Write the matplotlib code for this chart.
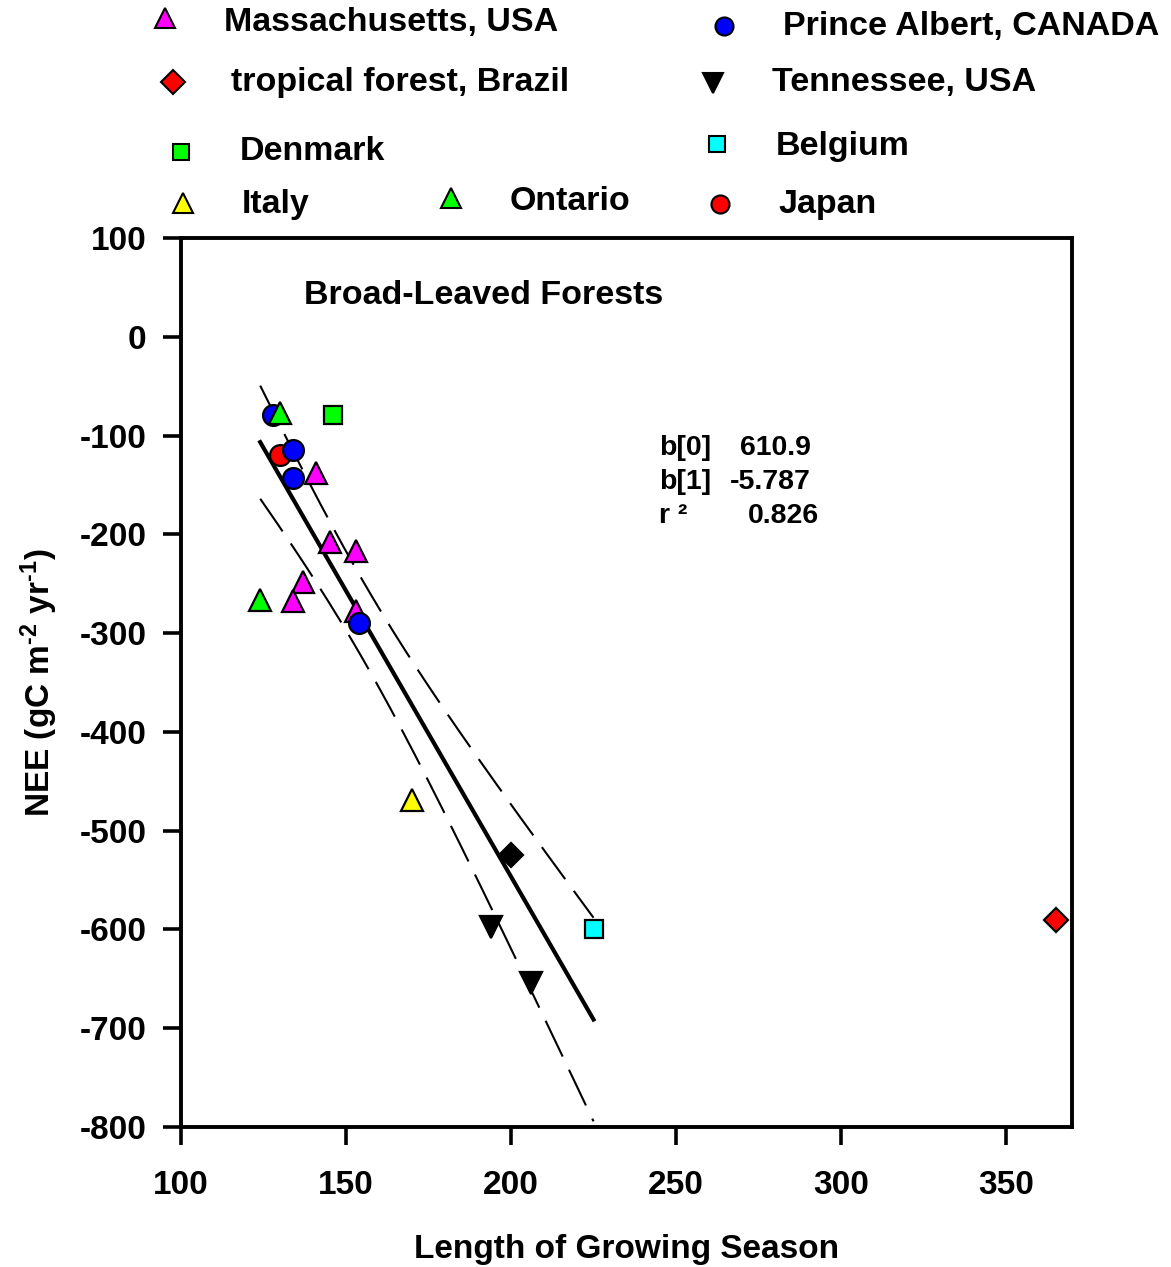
import numpy as np
import matplotlib
matplotlib.use("Agg")
import matplotlib.pyplot as plt

plt.rcParams['font.family'] = ['Liberation Sans', 'DejaVu Sans']
plt.rcParams['font.weight'] = 'bold'
plt.rcParams['axes.unicode_minus'] = False
plt.rcParams['mathtext.fontset'] = 'custom'
plt.rcParams['mathtext.rm'] = 'Liberation Sans:bold'
plt.rcParams['mathtext.default'] = 'rm'

# Données (longueur de saison, NEE)
mass_x = [141, 145, 153, 137, 134, 153]
mass_y = [-138, -208, -217, -248, -267, -278]
japan_x = [130]
japan_y = [-120]
pa_x = [128, 134, 134, 154]
pa_y = [-79, -115, -143, -290]
ontario_x = [130, 124]
ontario_y = [-77, -266]
denmark_x = [146]
denmark_y = [-79]
italy_x = [170]
italy_y = [-469]
other_x = [200]
other_y = [-525]
tenn_x = [194, 206]
tenn_y = [-598, -654]
belgium_x = [225]
belgium_y = [-600]
brazil_x = [365]
brazil_y = [-590]

# Régression (valeurs affichées)
b0 = 610.9
b1 = -5.787
r2 = 0.826
t_crit = 2.110  # t 95%, 17 ddl

fig = plt.figure(figsize=(11.71, 12.67), dpi=100)
ax = fig.add_axes([181 / 1171, 1 - 1127 / 1267, (1072 - 181) / 1171, (1127 - 238) / 1267])

# Points utilisés pour la régression (sans le Brésil)
fit_x = np.array(mass_x + japan_x + pa_x + ontario_x + denmark_x + italy_x + other_x + tenn_x + belgium_x, float)
fit_y = np.array(mass_y + japan_y + pa_y + ontario_y + denmark_y + italy_y + other_y + tenn_y + belgium_y, float)
n = len(fit_x)
resid = fit_y - (b0 + b1 * fit_x)
s = np.sqrt(np.sum(resid ** 2) / (n - 2))
xbar = fit_x.mean()
sxx = np.sum((fit_x - xbar) ** 2)

xx = np.linspace(fit_x.min(), fit_x.max(), 200)
yy = b0 + b1 * xx
half = t_crit * s * np.sqrt(1 / n + (xx - xbar) ** 2 / sxx)

ax.plot(xx, yy, color='black', lw=3, zorder=2)
ax.plot(xx, yy + half, color='black', lw=1.5, dashes=(19, 7), zorder=2)
ax.plot(xx, yy - half, color='black', lw=1.5, dashes=(19, 7), zorder=2)

mk = dict(markeredgecolor='black', markeredgewidth=1.6, linestyle='none', zorder=3)
ax.plot(mass_x, mass_y, '^', color='#ff00ff', markersize=16, **mk)
ax.plot(japan_x, japan_y, 'o', color='red', markersize=15, **mk)
ax.plot(pa_x, pa_y, 'o', color='#0000ff', markersize=15, **mk)
ax.plot(ontario_x, ontario_y, '^', color='#00ff00', markersize=16, **mk)
ax.plot(denmark_x, denmark_y, 's', color='#00ff00', markersize=13, **mk)
ax.plot(italy_x, italy_y, '^', color='yellow', markersize=16, **mk)
ax.plot(other_x, other_y, 'D', color='black', markersize=12, **mk)
ax.plot(tenn_x, tenn_y, 'v', color='black', markersize=16, **mk)
ax.plot(belgium_x, belgium_y, 's', color='cyan', markersize=13, **mk)
ax.plot(brazil_x, brazil_y, 'D', color='red', markersize=12, **mk)

ax.set_xlim(100, 370)
ax.set_ylim(-800, 100)
ax.set_xticks([100, 150, 200, 250, 300, 350])
ax.set_yticks(np.arange(-800, 101, 100))
ax.tick_params(direction='out', length=13, width=2.6, labelsize=24)
ax.tick_params(axis='x', pad=18)
ax.tick_params(axis='y', pad=12)
for sp in ax.spines.values():
    sp.set_linewidth(2.8)
for lab in ax.get_xticklabels() + ax.get_yticklabels():
    lab.set_fontweight('bold')

ax.set_xlabel('Length of Growing Season', fontsize=24, fontweight='bold', labelpad=24)
ax.set_ylabel('NEE (gC m$^{\\text{-2}}$ yr$^{\\text{-1}}$)', fontsize=24, fontweight='bold', labelpad=14)

ax.text(0.138, 0.935, 'Broad-Leaved Forests', transform=ax.transAxes, fontsize=24.5,
        fontweight='bold', va='center', ha='left')

# Couche en pixels pour la légende et les coefficients
ov = fig.add_axes([0, 0, 1, 1], zorder=5)
ov.set_xlim(0, 1171)
ov.set_ylim(1267, 0)
ov.axis('off')
ov.patch.set_alpha(0)

ov.text(659, 448, 'b[0]', fontsize=20.5, fontweight='bold', va='center')
ov.text(740, 448, '610.9', fontsize=20.5, fontweight='bold', va='center')
ov.text(659, 482, 'b[1]', fontsize=20.5, fontweight='bold', va='center')
ov.text(730, 482, '-5.787', fontsize=20.5, fontweight='bold', va='center')
ov.text(659, 516, 'r \u00b2', fontsize=20.5, fontweight='bold', va='center')
ov.text(748, 516, f'{r2:.3f}', fontsize=20.5, fontweight='bold', va='center')

legend_items = [
    ('^', '#ff00ff', 165, 18, 'Massachusetts, USA', 224, 22),
    ('o', '#0000ff', 724, 26, 'Prince Albert, CANADA', 783, 27),
    ('D', 'red', 173, 82, 'tropical forest, Brazil', 231, 82),
    ('v', 'black', 713, 83, 'Tennessee, USA', 772, 82),
    ('s', '#00ff00', 181, 152, 'Denmark', 240, 152),
    ('s', 'cyan', 717, 144, 'Belgium', 776, 146),
    ('^', 'yellow', 183, 203, 'Italy', 242, 205),
    ('^', '#00ff00', 451, 198, 'Ontario', 510, 201),
    ('o', 'red', 720, 204, 'Japan', 778, 204),
]
for m, c, mx, my, label, tx, ty in legend_items:
    if m in ('^', 'v'):
        size = 14
    elif m == 'o':
        size = 13
    else:
        size = 12
    ov.plot([mx], [my], m, color=c, markersize=size, markeredgecolor='black',
            markeredgewidth=1.5, clip_on=False)
    ov.text(tx, ty, label, fontsize=24.5, fontweight='bold', va='center', ha='left')

fig.savefig('out.png', dpi=100)
